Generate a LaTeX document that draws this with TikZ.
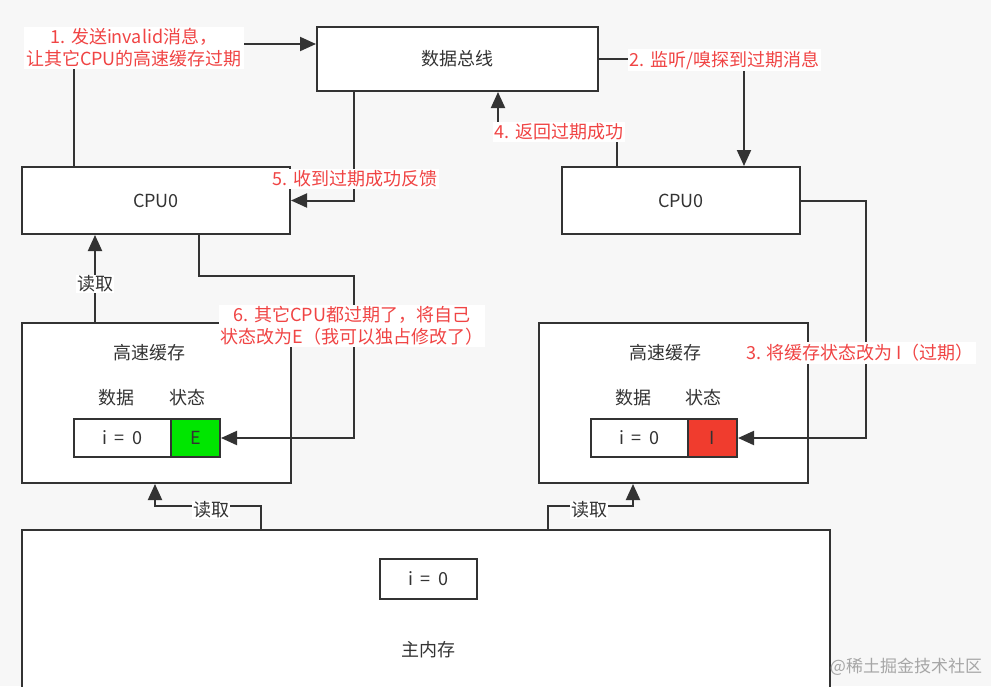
\documentclass[tikz,border=0pt]{standalone}
\usepackage{fontspec}
\setmainfont{Noto Sans CJK SC}
\usetikzlibrary{arrows.meta}
\definecolor{bg}{HTML}{F7F7F7}
\definecolor{ln}{HTML}{333333}
\definecolor{rd}{HTML}{F04444}
\definecolor{gn}{HTML}{00E600}
\definecolor{rI}{HTML}{F03C2E}
\newcommand{\ieq}{i\hspace{0.4em}=\hspace{0.4em}0}
\begin{document}
\begin{tikzpicture}[x=1pt,y=-1pt,
  box/.style={draw=ln,line width=2pt,fill=white,inner sep=0pt,text=ln,font=\fontsize{18pt}{22pt}\selectfont},
  cell/.style={draw=ln,line width=2pt,fill=white,inner sep=0pt,text=ln,minimum height=38pt,font=\fontsize{18pt}{22pt}\selectfont},
  txt/.style={text=ln,inner sep=0pt,font=\fontsize{18pt}{22pt}\selectfont},
  arr/.style={draw=ln,line width=2pt,-{Triangle[length=16pt,width=14pt]}},
  lbl/.style={fill=white,text=rd,inner sep=2pt,align=center,font=\fontsize{18pt}{22pt}\selectfont},
  rlbl/.style={fill=white,text=ln,inner sep=1pt,font=\fontsize{18pt}{22pt}\selectfont}
]
\useasboundingbox (0,0) rectangle (991,686);
\clip (0,0) rectangle (991,686);
\fill[bg] (0,0) rectangle (991,686);

% boxes
\node[box,minimum width=281pt,minimum height=64pt] (bus) at (457.5,59) {数据总线};
\node[box,minimum width=268pt,minimum height=67pt] (cpuL) at (156,200.5) {CPU0};
\node[box,minimum width=238pt,minimum height=67pt] (cpuR) at (681,200.5) {CPU0};
\node[box,minimum width=269pt,minimum height=160pt] (cacheL) at (156.5,403) {};
\node[box,minimum width=269pt,minimum height=160pt] (cacheR) at (673.5,403) {};
\node[box,minimum width=808pt,minimum height=170pt] (mem) at (426,615) {};

\node[txt] (tcL) at (149,353) {高速缓存};
\node[txt] (dhL) at (116,398) {数据};
\node[txt] (shL) at (187,398) {状态};
\node[cell,minimum width=97pt] (dL) at (122.5,438) {\ieq};
\node[cell,minimum width=49pt,fill=gn] (stE) at (195.5,438) {E};

\node[txt] (tcR) at (665,353) {高速缓存};
\node[txt] (dhR) at (633,398) {数据};
\node[txt] (shR) at (703,398) {状态};
\node[cell,minimum width=97pt] (dR) at (639.5,438) {\ieq};
\node[cell,minimum width=49pt,fill=rI] (stI) at (712.5,438) {I};

\node[cell,minimum width=97pt,minimum height=40pt] (mi) at (428.5,579) {\ieq};
\node[txt] (memt) at (428,650) {主内存};

% connectors
\draw[arr] ([xshift=53pt]cpuL.north west) |- ([yshift=15pt]bus.west)
  node[lbl] at (134,48) {1. 发送invalid消息，\\让其它CPU的高速缓存过期};
\draw[arr] (bus.east) -| ([xshift=63pt]cpuR.north)
  node[lbl] at (724.5,60) {2. 监听/嗅探到过期消息};
\draw[arr] (cpuR.east) -- ++(65pt,0) |- (stI.east)
  node[lbl] at (860,353) {3. 将缓存状态改为 I（过期）};
\draw[arr] ([xshift=-64pt]cpuR.north) -- ++(0,36pt) -| ([xshift=40.5pt]bus.south)
  node[lbl] at (559,132) {4. 返回过期成功};
\draw[arr] ([xshift=-103.5pt]bus.south) |- (cpuL.east)
  node[lbl] at (355,179) {5. 收到过期成功反馈};
\draw[arr] ([xshift=43pt]cpuL.south) -- ++(0,-41pt) -- ++(155pt,0) |- (stE.east)
  node[lbl] at (352,326) {6. 其它CPU都过期了，将自己\\状态改为E（我可以独占修改了）};
\draw[arr] ([xshift=-61.5pt]cacheL.north) -- ([xshift=-61pt]cpuL.south)
  node[rlbl] at (95,284) {读取};
\draw[arr] ([xshift=-165pt]mem.north) -- ++(0,23pt) -| ([xshift=-1.5pt]cacheL.south)
  node[rlbl] at (211,510) {读取};
\draw[arr] ([xshift=122pt]mem.north) -- ++(0,23pt) -| ([xshift=-40.5pt]cacheR.south)
  node[rlbl] at (589,510) {读取};

\node[text=black!35,inner sep=0pt,font=\fontsize{17pt}{19pt}\selectfont] (wm) at (906,667) {@稀土掘金技术社区};
\end{tikzpicture}
\end{document}
